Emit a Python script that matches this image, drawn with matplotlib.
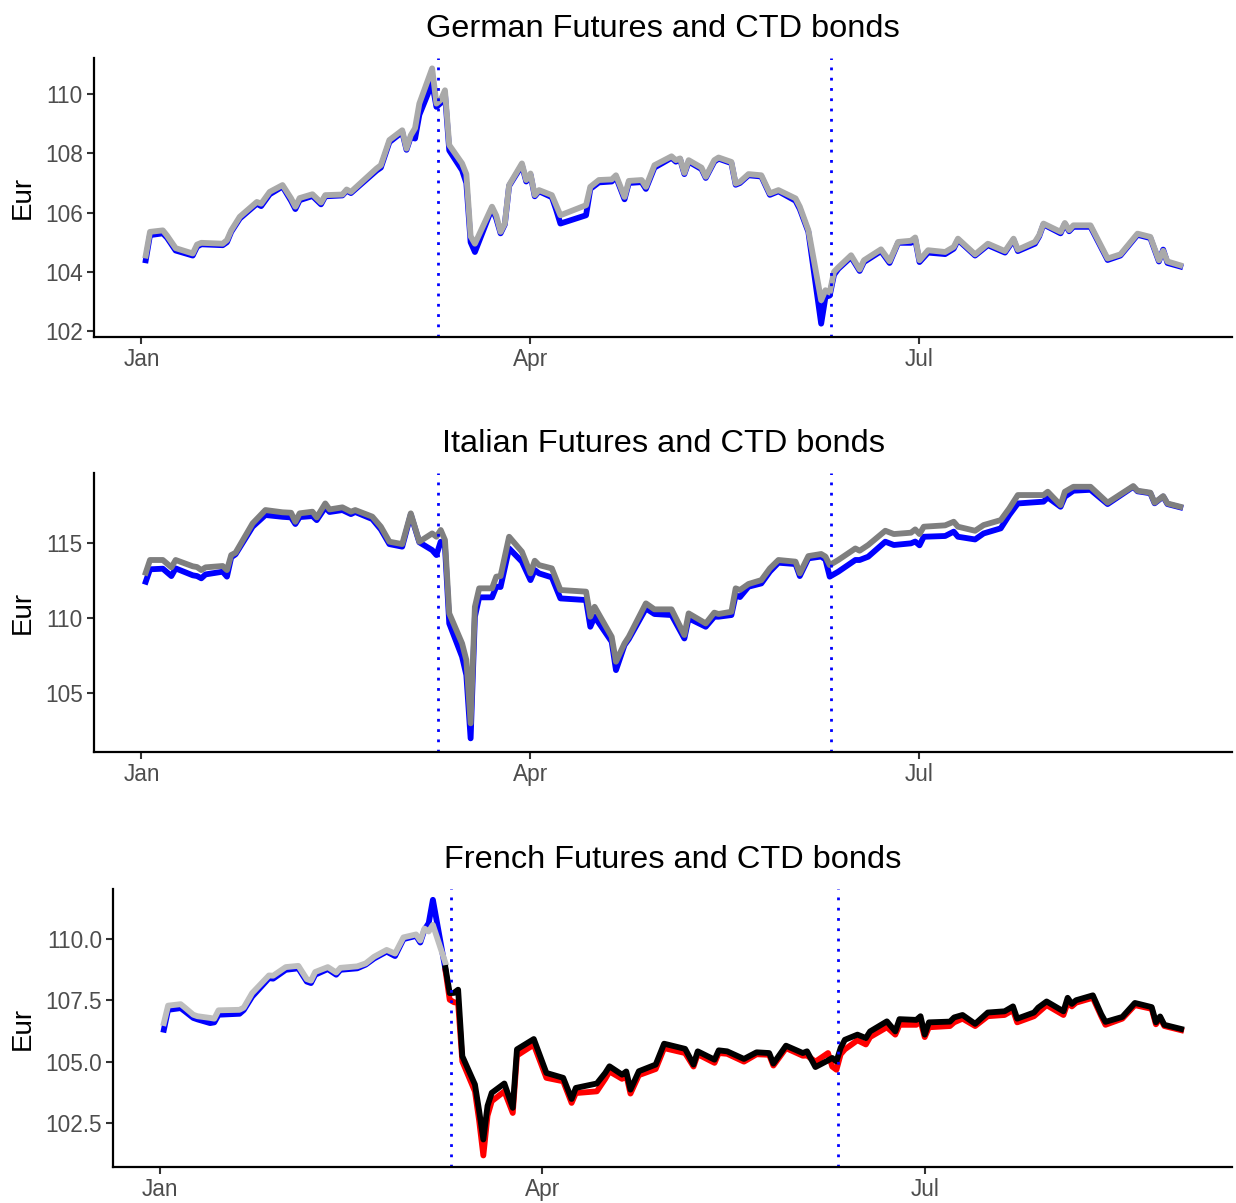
import numpy as np
import matplotlib
matplotlib.use("Agg")
import matplotlib.pyplot as plt
import matplotlib.dates as mdates

plt.rcParams['font.family'] = ['Liberation Sans', 'DejaVu Sans']

# ---------------- German future vs CTD ----------------
de_dates = ["01-02", "01-03", "01-06", "01-07", "01-09", "01-13", "01-14", "01-15", "01-20", "01-21",
            "01-22", "01-24", "01-28", "01-29", "01-31", "02-03", "02-05", "02-06", "02-07", "02-10",
            "02-12", "02-13", "02-17", "02-18", "02-19", "02-25", "02-26", "02-28", "03-02", "03-03",
            "03-04", "03-05", "03-06", "03-09", "03-10", "03-11", "03-12", "03-13", "03-16", "03-17",
            "03-18", "03-19", "03-23", "03-24", "03-25", "03-26", "03-27", "03-30", "03-31", "04-01",
            "04-02", "04-03", "04-06", "04-07", "04-08", "04-14", "04-15", "04-17", "04-20", "04-21",
            "04-23", "04-24", "04-27", "04-28", "04-30", "05-04", "05-05", "05-06", "05-07", "05-08",
            "05-11", "05-12", "05-14", "05-15", "05-18", "05-19", "05-20", "05-22", "05-25", "05-27",
            "05-29", "06-02", "06-03", "06-05", "06-08", "06-09", "06-10", "06-11", "06-12", "06-15",
            "06-17", "06-18", "06-22", "06-24", "06-26", "06-29", "06-30", "07-01", "07-03", "07-07",
            "07-09", "07-10", "07-14", "07-17", "07-21", "07-23", "07-24", "07-28", "07-29", "07-30",
            "08-03", "08-04", "08-05", "08-06", "08-10", "08-13", "08-14", "08-17", "08-21", "08-24",
            "08-26", "08-27", "08-28", "08-31"]
de_future = [104.39, 105.24, 105.30, 105.15, 104.72, 104.55, 104.85, 104.93, 104.90, 105.00,
             105.35, 105.80, 106.30, 106.22, 106.62, 106.88, 106.40, 106.12, 106.42, 106.56,
             106.28, 106.55, 106.58, 106.74, 106.66, 107.42, 107.52, 108.38, 108.72, 108.12,
             108.55, 108.50, 109.30, 110.37, 109.57, 109.70, 110.00, 108.10, 107.43, 107.00,
             105.00, 104.67, 106.15, 105.80, 105.30, 105.60, 106.90, 107.60, 107.05, 107.28,
             106.55, 106.72, 106.52, 106.10, 105.63, 105.91, 106.80, 107.02, 107.05, 107.20,
             106.45, 107.00, 107.03, 106.80, 107.52, 107.85, 107.72, 107.80, 107.30, 107.72,
             107.47, 107.17, 107.72, 107.82, 107.67, 106.94, 107.00, 107.26, 107.22, 106.60,
             106.72, 106.40, 106.12, 105.35, 102.25, 103.15, 103.20, 103.90, 104.10, 104.50,
             104.03, 104.33, 104.70, 104.30, 104.98, 104.98, 105.10, 104.33, 104.65, 104.60,
             104.78, 105.08, 104.55, 104.90, 104.65, 105.08, 104.70, 104.95, 105.20, 105.60,
             105.30, 105.62, 105.37, 105.52, 105.52, 104.68, 104.40, 104.55, 105.25, 105.14,
             104.35, 104.75, 104.30, 104.18]
de_ctd = [104.55, 105.35, 105.40, 105.22, 104.80, 104.62, 104.92, 104.98, 104.95, 105.07,
          105.40, 105.86, 106.36, 106.30, 106.70, 106.93, 106.48, 106.20, 106.49, 106.62,
          106.34, 106.59, 106.61, 106.78, 106.70, 107.49, 107.60, 108.45, 108.78, 108.16,
          108.61, 108.85, 109.68, 110.87, 109.68, 109.80, 110.13, 108.28, 107.66, 107.30,
          105.20, 104.95, 106.20, 105.90, 105.35, 105.63, 106.93, 107.66, 107.10, 107.32,
          106.59, 106.76, 106.59, 106.25, 105.91, 106.25, 106.87, 107.10, 107.12, 107.26,
          106.53, 107.07, 107.10, 106.87, 107.60, 107.90, 107.77, 107.83, 107.34, 107.77,
          107.52, 107.21, 107.77, 107.86, 107.71, 106.98, 107.04, 107.30, 107.26, 106.65,
          106.76, 106.48, 106.20, 105.41, 103.04, 103.38, 103.30, 104.00, 104.15, 104.56,
          104.08, 104.39, 104.76, 104.36, 105.01, 105.05, 105.16, 104.39, 104.73, 104.67,
          104.84, 105.12, 104.59, 104.95, 104.70, 105.12, 104.75, 105.01, 105.24, 105.63,
          105.35, 105.65, 105.41, 105.57, 105.57, 104.73, 104.45, 104.59, 105.29, 105.18,
          104.39, 104.71, 104.35, 104.22]

# ---------------- Italian future vs CTD ----------------
it_dates = ["01-02", "01-03", "01-06", "01-08", "01-09", "01-13", "01-14", "01-15", "01-16", "01-20",
            "01-21", "01-22", "01-23", "01-27", "01-30", "02-03", "02-05", "02-06", "02-07", "02-10",
            "02-11", "02-13", "02-14", "02-17", "02-19", "02-20", "02-24", "02-26", "02-28", "03-02",
            "03-04", "03-06", "03-09", "03-10", "03-11", "03-12", "03-13", "03-16", "03-17", "03-18",
            "03-19", "03-20", "03-23", "03-24", "03-25", "03-27", "03-30", "04-01", "04-02", "04-03",
            "04-06", "04-08", "04-14", "04-15", "04-16", "04-20", "04-21", "04-23", "04-24", "04-28",
            "04-30", "05-04", "05-07", "05-08", "05-12", "05-14", "05-15", "05-18", "05-19", "05-20",
            "05-22", "05-25", "05-27", "05-29", "06-02", "06-03", "06-05", "06-08", "06-09", "06-10",
            "06-12", "06-16", "06-17", "06-19", "06-23", "06-25", "06-29", "06-30", "07-01", "07-02",
            "07-07", "07-09", "07-10", "07-14", "07-16", "07-20", "07-22", "07-24", "07-30", "07-31",
            "08-03", "08-04", "08-06", "08-10", "08-14", "08-20", "08-21", "08-24", "08-25", "08-27",
            "08-28", "08-31"]
it_future = [112.42, 113.25, 113.29, 112.80, 113.31, 112.85, 112.80, 112.65, 112.91, 113.09,
             112.76, 114.05, 114.25, 116.09, 116.87, 116.75, 116.71, 116.27, 116.73, 116.80,
             116.53, 117.38, 117.07, 117.20, 116.93, 117.07, 116.60, 115.91, 114.93, 114.76,
             116.90, 115.05, 114.53, 114.20, 115.09, 114.76, 109.64, 107.42, 106.20, 101.98,
             110.09, 111.38, 111.38, 112.09, 112.07, 114.64, 113.76, 112.53, 113.20, 112.98,
             112.71, 111.31, 111.20, 109.42, 110.09, 108.42, 106.53, 108.20, 108.60, 110.64,
             110.27, 110.20, 108.64, 109.98, 109.42, 110.09, 110.09, 110.20, 111.53, 111.40,
             112.09, 112.31, 113.10, 113.69, 113.60, 112.80, 113.98, 114.10, 113.90, 112.76,
             113.09, 113.87, 113.87, 114.09, 115.09, 114.87, 114.98, 115.10, 114.85, 115.42,
             115.47, 115.76, 115.42, 115.24, 115.64, 115.98, 116.87, 117.64, 117.76, 118.04,
             117.42, 118.09, 118.49, 118.55, 117.60, 118.75, 118.45, 118.32, 117.65, 118.10,
             117.60, 117.38]
it_ctd = [113.02, 113.87, 113.87, 113.38, 113.87, 113.45, 113.40, 113.20, 113.38, 113.47,
          113.20, 114.20, 114.35, 116.31, 117.20, 117.05, 117.02, 116.42, 116.98, 117.09,
          116.71, 117.64, 117.24, 117.38, 117.09, 117.20, 116.76, 116.09, 115.09, 114.93,
          116.98, 115.09, 115.64, 115.42, 115.87, 115.20, 110.31, 108.31, 107.20, 102.98,
          110.75, 111.98, 111.98, 112.76, 112.80, 115.42, 114.42, 112.98, 113.82, 113.53,
          113.31, 111.87, 111.76, 110.09, 110.75, 108.75, 107.09, 108.31, 108.75, 110.98,
          110.58, 110.58, 108.87, 110.31, 109.64, 110.36, 110.27, 110.42, 111.98, 111.87,
          112.27, 112.53, 113.31, 113.87, 113.76, 112.98, 114.13, 114.27, 114.10, 113.53,
          113.87, 114.64, 114.49, 114.87, 115.82, 115.60, 115.69, 115.91, 115.60, 116.09,
          116.18, 116.42, 116.09, 115.82, 116.20, 116.53, 117.31, 118.20, 118.20, 118.42,
          117.53, 118.42, 118.75, 118.75, 117.69, 118.80, 118.49, 118.36, 117.69, 118.13,
          117.64, 117.42]

# ---------------- French future vs CTD (old CTD until roll, new CTD after) ----------------
fr_dates_1 = ["01-02", "01-03", "01-06", "01-07", "01-09", "01-10", "01-13", "01-14", "01-15", "01-20",
              "01-21", "01-23", "01-27", "01-28", "01-31", "02-03", "02-05", "02-06", "02-07", "02-10",
              "02-12", "02-13", "02-17", "02-19", "02-21", "02-24", "02-26", "02-28", "03-02", "03-03",
              "03-04", "03-05", "03-06", "03-09"]
fr_future_1 = [106.30, 107.11, 107.18, 107.05, 106.78, 106.72, 106.57, 106.60, 106.91, 106.95,
               107.10, 107.65, 108.40, 108.38, 108.74, 108.80, 108.26, 108.20, 108.54, 108.77,
               108.54, 108.74, 108.80, 108.95, 109.20, 109.48, 109.30, 109.99, 110.12, 109.85,
               110.37, 110.64, 111.59, 108.74]
fr_ctd_1 = [106.57, 107.28, 107.34, 107.20, 106.91, 106.85, 106.78, 106.75, 107.09, 107.11,
            107.20, 107.79, 108.51, 108.50, 108.85, 108.90, 108.36, 108.30, 108.65, 108.85,
            108.63, 108.82, 108.88, 109.00, 109.27, 109.55, 109.40, 110.06, 110.18, 109.93,
            110.42, 110.30, 110.57, 109.01]

fr_dates_2 = ["03-09", "03-10", "03-11", "03-12", "03-13", "03-16", "03-17", "03-18", "03-19", "03-20",
              "03-23", "03-25", "03-26", "03-30", "04-02", "04-06", "04-08", "04-09", "04-14", "04-16",
              "04-17", "04-20", "04-21", "04-22", "04-24", "04-28", "04-30", "05-05", "05-07", "05-08",
              "05-12", "05-13", "05-15", "05-19", "05-22", "05-25", "05-26", "05-29", "06-02", "06-03",
              "06-05", "06-08", "06-09", "06-10", "06-11", "06-12", "06-15", "06-17", "06-18", "06-22",
              "06-24", "06-25", "06-29", "06-30", "07-01", "07-02", "07-07", "07-08", "07-10", "07-13",
              "07-16", "07-20", "07-22", "07-23", "07-27", "07-28", "07-30", "08-03", "08-04", "08-05",
              "08-06", "08-10", "08-12", "08-13", "08-17", "08-20", "08-24", "08-25", "08-26", "08-27",
              "08-31"]
fr_future_2 = [108.70, 107.52, 107.42, 107.39, 105.01, 103.79, 102.60, 101.18, 102.80, 103.39,
               103.79, 102.91, 105.25, 105.69, 104.34, 104.20, 103.32, 103.72, 103.79, 104.30,
               104.60, 104.30, 104.45, 103.70, 104.45, 104.70, 105.55, 105.35, 104.80, 105.30,
               104.95, 105.35, 105.32, 105.00, 105.30, 105.28, 104.84, 105.55, 105.24, 105.25,
               105.00, 105.35, 104.80, 104.67, 105.30, 105.50, 105.87, 105.70, 106.00, 106.40,
               106.10, 106.50, 106.50, 106.65, 106.00, 106.40, 106.45, 106.60, 106.75, 106.45,
               106.85, 106.90, 107.10, 106.60, 106.85, 107.00, 107.30, 106.90, 107.40, 107.25,
               107.40, 107.60, 106.85, 106.50, 106.75, 107.30, 107.15, 106.52, 106.78, 106.45,
               106.28]
fr_ctd_2 = [108.81, 107.79, 107.80, 107.93, 105.22, 104.07, 103.00, 101.83, 103.20, 103.73,
            104.11, 103.12, 105.50, 105.92, 104.54, 104.34, 103.48, 103.93, 104.11, 104.54,
            104.81, 104.47, 104.60, 103.86, 104.61, 104.88, 105.73, 105.52, 104.88, 105.42,
            105.08, 105.46, 105.42, 105.11, 105.38, 105.35, 104.92, 105.65, 105.35, 105.42,
            104.78, 105.05, 105.15, 105.01, 105.56, 105.89, 106.10, 105.96, 106.23, 106.64,
            106.23, 106.73, 106.70, 106.85, 106.10, 106.60, 106.63, 106.80, 106.90, 106.54,
            107.00, 107.05, 107.25, 106.75, 107.00, 107.20, 107.45, 107.05, 107.60, 107.35,
            107.50, 107.70, 106.93, 106.62, 106.82, 107.39, 107.22, 106.60, 106.84, 106.50,
            106.33]

event_dates = ["03-10", "06-10"]


def to_dates(days):
    return np.array(["2020-" + d for d in days], dtype="datetime64[D]")


def style(ax, x, yticks, ylim, fmt=None):
    for s in ["top", "right"]:
        ax.spines[s].set_visible(False)
    for s in ["left", "bottom"]:
        ax.spines[s].set_linewidth(1.6)
    ax.tick_params(length=5, width=1.5, color="#333333", labelsize=16.3,
                   labelcolor="#4D4D4D", pad=3)
    ax.xaxis.set_major_locator(mdates.MonthLocator(bymonth=[1, 4, 7]))
    ax.xaxis.set_major_formatter(mdates.DateFormatter("%b"))
    x0, x1 = mdates.date2num(x[0]), mdates.date2num(x[-1])
    ax.set_xlim(x0 - 0.05 * (x1 - x0), x1 + 0.05 * (x1 - x0))
    ax.set_ylim(*ylim)
    ax.set_yticks(yticks)
    if fmt:
        ax.set_yticklabels([fmt % v for v in yticks])
    for d in to_dates(event_dates):
        ax.axvline(mdates.date2num(d) + 0.4, color="#0000FF", linewidth=2.0,
                   linestyle=(0, (1.0, 2.7)))


fig = plt.figure(figsize=(12.36, 12.03), dpi=100)
W, H = 1236, 1203

lw = 4.2

# German
ax1 = fig.add_axes([94 / W, 1 - 337 / H, (1232 - 94) / W, (337 - 58) / H])
x = to_dates(de_dates)
ax1.plot(x, de_future, color="#0000FF", linewidth=lw, solid_joinstyle="round")
ax1.plot(x, de_ctd, color="#A9A9A9", linewidth=lw, solid_joinstyle="round")
style(ax1, x, [102, 104, 106, 108, 110], (101.8, 111.22))
ax1.set_title("German Futures and CTD bonds", fontsize=23.4, pad=15)

# Italian
ax2 = fig.add_axes([94 / W, 1 - 752 / H, (1232 - 94) / W, (752 - 473) / H])
x = to_dates(it_dates)
ax2.plot(x, it_future, color="#0000FF", linewidth=lw, solid_joinstyle="round")
ax2.plot(x, it_ctd, color="#7F7F7F", linewidth=lw, solid_joinstyle="round")
style(ax2, x, [105, 110, 115], (101.07, 119.67))
ax2.set_title("Italian Futures and CTD bonds", fontsize=23.4, pad=15)

# French
ax3 = fig.add_axes([113 / W, 1 - 1167 / H, (1232 - 113) / W, (1167 - 889) / H])
x1 = to_dates(fr_dates_1)
x2 = to_dates(fr_dates_2)
ax3.plot(x1, fr_future_1, color="#0000FF", linewidth=lw, solid_joinstyle="round")
ax3.plot(x1, fr_ctd_1, color="#BEBEBE", linewidth=lw, solid_joinstyle="round")
ax3.plot(x2, fr_future_2, color="#FF0000", linewidth=lw, solid_joinstyle="round")
ax3.plot(x2, fr_ctd_2, color="#000000", linewidth=lw, solid_joinstyle="round")
style(ax3, np.concatenate([x1, x2]), [102.5, 105.0, 107.5, 110.0], (100.71, 112.03), "%.1f")
ax3.set_title("French Futures and CTD bonds", fontsize=23.4, pad=15)

for yc in [(58 + 337) / 2, (473 + 752) / 2, (889 + 1167) / 2]:
    fig.text(23 / W, 1 - yc / H, "Eur", rotation=90, fontsize=20,
             ha="center", va="center")

fig.savefig("out.png", dpi=100)
